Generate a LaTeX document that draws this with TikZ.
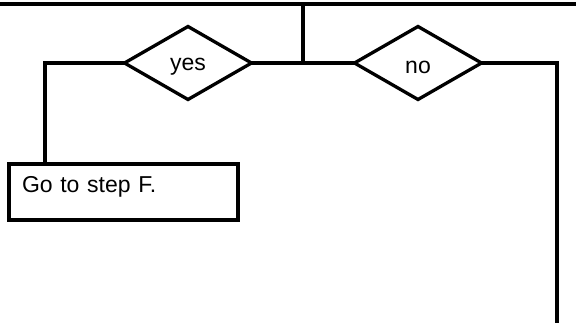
\documentclass[tikz,border=0pt]{standalone}
\usepackage{fontspec}
\setmainfont{Liberation Sans}
\usetikzlibrary{shapes.geometric, positioning}

\begin{document}
\begin{tikzpicture}[x=1pt, y=-1pt,
    choice/.style={draw, diamond, line width=3.3pt, minimum width=127pt, minimum height=73pt,
                   inner sep=0pt, outer sep=0pt, font=\fontsize{23}{25}\selectfont},
    stepbox/.style={draw, rectangle, line width=3.6pt, minimum width=229pt, minimum height=56pt,
                    text width=203pt, align=left, inner xsep=13pt, inner ysep=3pt, outer sep=0pt,
                    text height=16pt, text depth=14pt, font=\fontsize{23}{25}\selectfont},
    link/.style={line width=3.3pt}]
  \useasboundingbox (0,0) rectangle (576,323);

  % top rail and tap
  \coordinate (railL) at (0,4);
  \coordinate (railR) at (576,4);
  \coordinate (tap) at (303,4);
  \draw[line width=4.2pt] (railL) -- (railR);

  % the two answers
  \node[choice, text height=15pt, text depth=0pt] (yes) at (188,63) {yes};
  \node[choice, text height=21pt, text depth=0pt] (no) at (418,63) {no};
  \node[stepbox, anchor=north west] (stepF) at (9,164) {Go to step F.};

  \coordinate (leftdrop) at (45,164);
  \coordinate (rightdrop) at (557,323);

  \draw[link] (tap) -- (tap |- yes.east);
  \draw[link] (yes.east) -- (no.west);
  \draw[link] (yes.west) -| (leftdrop);
  \draw[link] (no.east) -| (rightdrop);
\end{tikzpicture}
\end{document}
